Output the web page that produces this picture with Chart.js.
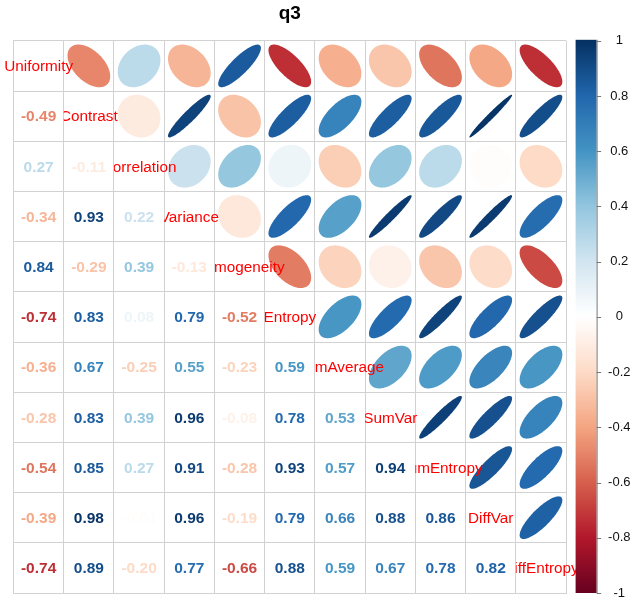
<!DOCTYPE html>
<html>
<head>
<title>q3</title>
<script src="https://cdn.jsdelivr.net/npm/chart.js"></script>
<style>body{margin:0;background:#fff}</style>
</head>
<body>
<canvas id="corrChart" width="632" height="600"></canvas>
<script>
const vars = ['Uniformity', 'Contrast', 'Correlation', 'Variance', 'Homogeneity', 'Entropy',
              'SumAverage', 'SumVar', 'SumEntropy', 'DiffVar', 'DiffEntropy'];

// lower triangle of the correlation matrix, row i holds columns 0..i-1
const lower = [
    [],
    [-0.49],
    [0.27, -0.11],
    [-0.34, 0.93, 0.22],
    [0.84, -0.29, 0.39, -0.13],
    [-0.74, 0.83, 0.08, 0.79, -0.52],
    [-0.36, 0.67, -0.25, 0.55, -0.23, 0.59],
    [-0.28, 0.83, 0.39, 0.96, -0.08, 0.78, 0.53],
    [-0.54, 0.85, 0.27, 0.91, -0.28, 0.93, 0.57, 0.94],
    [-0.39, 0.98, -0.01, 0.96, -0.19, 0.79, 0.66, 0.88, 0.86],
    [-0.74, 0.89, -0.20, 0.77, -0.66, 0.88, 0.59, 0.67, 0.78, 0.82]
];

const cbTicks = [1, 0.8, 0.6, 0.4, 0.2, 0, -0.2, -0.4, -0.6, -0.8, -1];

// RdBu, from -1 to 1
const palette = ['#67001F', '#B2182B', '#D6604D', '#F4A582', '#FDDBC7', '#FFFFFF',
                 '#D1E5F0', '#92C5DE', '#4393C3', '#2166AC', '#053061'];

const FONT = '"Liberation Sans", Arial, sans-serif';

function hexRgb(h) {
    return [parseInt(h.slice(1, 3), 16), parseInt(h.slice(3, 5), 16), parseInt(h.slice(5, 7), 16)];
}
function corrColor(v) {
    const t = (v + 1) / 2 * (palette.length - 1);
    const k = Math.min(Math.floor(t), palette.length - 2);
    const f = t - k;
    const a = hexRgb(palette[k]), b = hexRgb(palette[k + 1]);
    const c = a.map((x, i) => Math.round(x + (b[i] - x) * f));
    return 'rgb(' + c.join(',') + ')';
}
function corr(i, j) {
    return i > j ? lower[i][j] : lower[j][i];
}

// one point per cell, at the cell centre
const cells = [];
for (let i = 0; i < vars.length; i++) {
    for (let j = 0; j < vars.length; j++) {
        cells.push({x: j + 0.5, y: i + 0.5, row: i, col: j, r: i === j ? 1 : corr(i, j)});
    }
}

const corrPlugin = {
    id: 'corrCells',
    afterDatasetsDraw(chart) {
        const ctx = chart.ctx;
        const xs = chart.scales.x, ys = chart.scales.y;
        const cw = xs.getPixelForValue(1) - xs.getPixelForValue(0);
        ctx.save();
        chart.data.datasets[0].data.forEach(p => {
            const px = xs.getPixelForValue(p.x), py = ys.getPixelForValue(p.y);
            if (p.col > p.row) {
                // ellipse, as corrplot draws it
                const a = Math.acos(p.r);
                ctx.beginPath();
                for (let k = 0; k <= 120; k++) {
                    const t = k / 120 * 2 * Math.PI;
                    const ex = p.x + 0.85 * Math.cos(t + a / 2) / 2;
                    const ey = p.y - 0.85 * Math.cos(t - a / 2) / 2;
                    const X = xs.getPixelForValue(ex), Y = ys.getPixelForValue(ey);
                    if (k === 0) ctx.moveTo(X, Y); else ctx.lineTo(X, Y);
                }
                ctx.closePath();
                ctx.fillStyle = corrColor(p.r);
                ctx.fill();
            } else if (p.col < p.row) {
                ctx.font = 'bold 15.5px ' + FONT;
                ctx.textAlign = 'center';
                ctx.textBaseline = 'middle';
                ctx.fillStyle = corrColor(p.r);
                ctx.fillText(p.r.toFixed(2), px, py + 1);
            }
        });
        // diagonal labels, cut at the left edge of their cell
        chart.data.datasets[0].data.filter(p => p.row === p.col).forEach(p => {
            const px = xs.getPixelForValue(p.x), py = ys.getPixelForValue(p.y);
            ctx.save();
            if (p.col > 0) {
                ctx.beginPath();
                ctx.rect(px - cw / 2, 0, chart.width, chart.height);
                ctx.clip();
            }
            ctx.font = '15.3px ' + FONT;
            ctx.textAlign = 'center';
            ctx.textBaseline = 'middle';
            ctx.fillStyle = '#FF0000';
            ctx.fillText(vars[p.row], px, py + 1);
            ctx.restore();
        });
        ctx.restore();
    },
    afterDraw(chart) {
        const ctx = chart.ctx;
        const cb = chart.scales.cb;
        const top = cb.getPixelForValue(1) - 1, bot = cb.getPixelForValue(-1);
        const x0 = chart.chartArea.right + 9.5, x1 = chart.chartArea.right + 30.5;
        const g = ctx.createLinearGradient(0, bot, 0, top);
        palette.forEach((c, k) => g.addColorStop(k / (palette.length - 1), c));
        ctx.save();
        ctx.fillStyle = g;
        ctx.fillRect(x0, top, x1 - x0, bot - top);
        ctx.strokeStyle = '#777';
        ctx.lineWidth = 1;
        ctx.beginPath();
        ctx.moveTo(x1 + 0.5, top);
        ctx.lineTo(x1 + 0.5, bot);
        cbTicks.forEach(v => {
            const y = Math.round(cb.getPixelForValue(v)) + 0.5;
            ctx.moveTo(x1, y);
            ctx.lineTo(x1 + 4.5, y);
        });
        ctx.stroke();
        ctx.restore();
    }
};

const gridOpts = {color: '#d2d2d2', drawTicks: false};
const chart = new Chart(document.getElementById('corrChart'), {
    type: 'scatter',
    data: {
        datasets: [{
            label: 'corr',
            data: cells,
            pointRadius: 0,
            pointHoverRadius: 0
        }]
    },
    options: {
        responsive: false,
        animation: false,
        events: [],
        layout: {padding: {left: 13.5, right: 1.5, top: 0, bottom: 7}},
        plugins: {
            legend: {display: false},
            tooltip: {enabled: false},
            title: {
                display: true,
                text: 'q3',
                fullSize: false,
                color: '#000',
                font: {family: FONT, size: 19, weight: 'bold'},
                padding: {top: 2, bottom: 16}
            }
        },
        scales: {
            x: {
                type: 'linear', min: 0, max: 11, position: 'bottom',
                ticks: {display: false, stepSize: 1},
                grid: gridOpts,
                border: {color: '#d2d2d2'}
            },
            y: {
                type: 'linear', min: 0, max: 11, reverse: true, position: 'left',
                ticks: {display: false, stepSize: 1},
                grid: gridOpts,
                border: {color: '#d2d2d2'}
            },
            cb: {
                type: 'linear', min: -1, max: 1, position: 'right',
                afterBuildTicks: s => { s.ticks = cbTicks.map(v => ({value: v})); },
                ticks: {
                    padding: 0,
                    crossAlign: 'center',
                    color: '#111',
                    font: {family: FONT, size: 13, lineHeight: 1},
                    callback: v => String(Math.round(v * 10) / 10)
                },
                grid: {drawOnChartArea: false, drawTicks: true, tickLength: 42, tickColor: 'rgba(0,0,0,0)'},
                border: {display: false}
            }
        }
    },
    plugins: [corrPlugin]
});
</script>
</body>
</html>
